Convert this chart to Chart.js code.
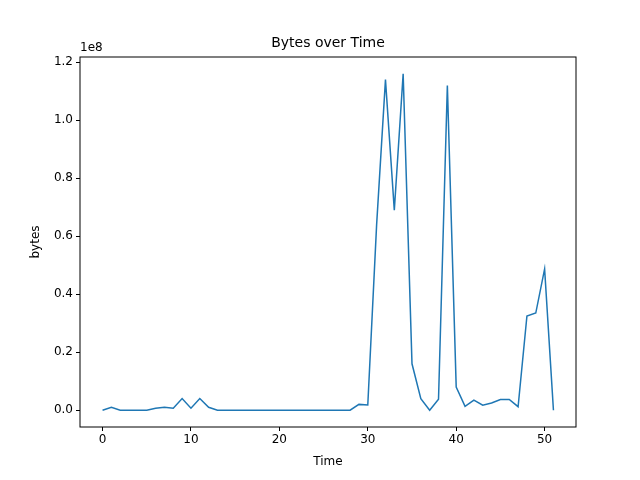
<!DOCTYPE html>
<html><head><script src="https://cdn.jsdelivr.net/npm/chart.js@4"></script>
<style>body{margin:0}</style></head><body>
<canvas id="c" width="640" height="480"></canvas>
<script>
const times=[...Array(52).keys()];
const bytes=[0,1e6,0,0,0,0,0.7e6,1e6,0.7e6,4e6,0.7e6,4e6,1e6,0,0,0,0,0,0,0,0,0,0,0,0,0,0,0,0,2e6,1.8e6,64e6,114e6,69e6,116e6,16e6,4e6,0,3.8e6,112e6,8e6,1.3e6,3.5e6,1.7e6,2.5e6,3.7e6,3.7e6,1.2e6,32.5e6,33.5e6,48.7e6,0];
const xTicks=[0,10,20,30,40,50];
const yTicks=[0,0.2,0.4,0.6,0.8,1.0,1.2];
const font={family:'DejaVu Sans',size:12};
const frame={id:'frame',afterDraw(ch){const a=ch.chartArea,c=ch.ctx;c.save();c.strokeStyle='#000';c.lineWidth=1;c.strokeRect(a.left,a.top,a.right-a.left,a.bottom-a.top);
c.fillStyle='#000';c.font='14px DejaVu Sans';c.textAlign='center';c.textBaseline='middle';c.fillText('Bytes over Time',(a.left+a.right)/2,43);
c.font='12px DejaVu Sans';c.textAlign='left';c.fillText('1e8',a.left,48);
c.textAlign='center';c.fillText('Time',(a.left+a.right)/2,462);
c.translate(36,(a.top+a.bottom)/2);c.rotate(-Math.PI/2);c.fillText('bytes',0,0);c.restore();}};
new Chart(document.getElementById('c'),{type:'line',
data:{labels:times,datasets:[{data:times.map((t,i)=>({x:t,y:bytes[i]/1e8})),borderColor:'#1f77b4',borderWidth:1.5,pointRadius:0,tension:0}]},
options:{responsive:false,animation:false,layout:{padding:{top:57,right:64,left:0,bottom:0}},
plugins:{legend:{display:false},tooltip:{enabled:false}},
scales:{
x:{type:'linear',min:-2.55,max:53.55,afterBuildTicks(s){s.ticks=xTicks.map(v=>({value:v}))},afterFit(s){s.height=53},
grid:{drawOnChartArea:false,drawTicks:true,tickLength:4,color:'#000'},border:{display:false},
ticks:{color:'#000',font,padding:2,maxRotation:0}},
y:{min:-0.058,max:1.218,afterBuildTicks(s){s.ticks=yTicks.map(v=>({value:v}))},afterFit(s){s.width=80},
grid:{drawOnChartArea:false,drawTicks:true,tickLength:4,color:'#000'},border:{display:false},
ticks:{color:'#000',font,padding:3,callback:v=>v.toFixed(1)}}}},
plugins:[frame]});
</script></body></html>
